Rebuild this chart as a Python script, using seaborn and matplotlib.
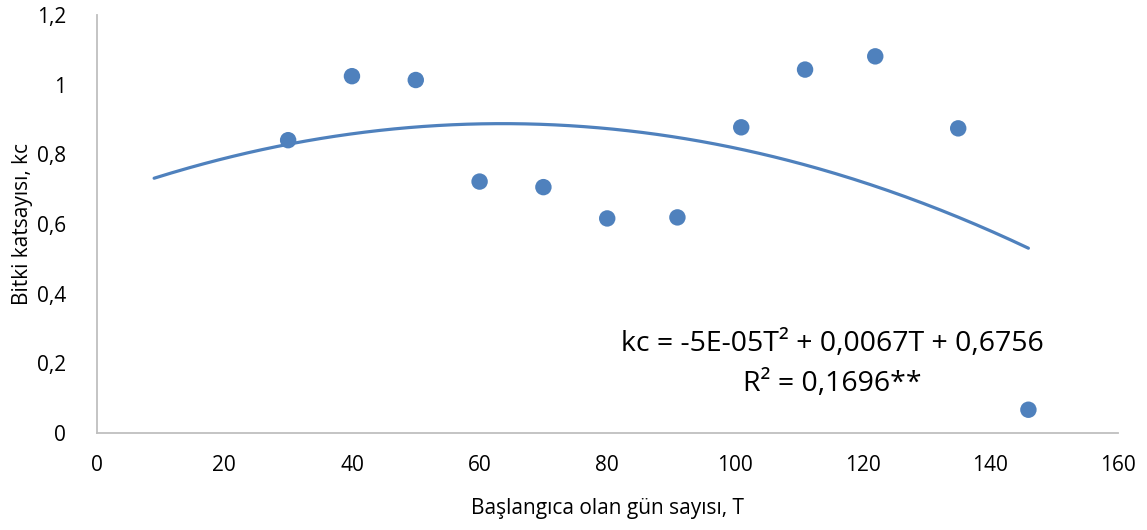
import numpy as np
import pandas as pd
import matplotlib
matplotlib.use("Agg")
import matplotlib.pyplot as plt
import seaborn as sns

# Days since start (T) and crop coefficient (kc)
days = [30, 40, 50, 60, 70, 80, 91, 101, 111, 122, 135, 146]
kc = [0.841, 1.025, 1.014, 0.722, 0.706, 0.616, 0.619, 0.878, 1.044, 1.082, 0.875, 0.066]

# Second-order polynomial trend: kc = a*T^2 + b*T + c
trend_coef = [-5.27e-05, 0.0067, 0.6756]
trend_start, trend_end = 9, 146

x_ticks = [0, 20, 40, 60, 80, 100, 120, 140, 160]
y_ticks = [0, 0.2, 0.4, 0.6, 0.8, 1.0, 1.2]
y_tick_labels = ["0", "0,2", "0,4", "0,6", "0,8", "1", "1,2"]

equation_text = "kc = -5E-05T² + 0,0067T + 0,6756\nR² = 0,1696**"
x_label = "Başlangıca olan gün sayısı, T"
y_label = "Bitki katsayısı, kc"

sns.set_theme(style="white")
plt.rcParams["font.family"] = ["Open Sans", "DejaVu Sans"]

blue = "#4F81BD"
axis_grey = "#BFBFBF"

fig = plt.figure(figsize=(11.47, 5.30), dpi=100)
ax = fig.add_axes([0.0843, 0.1836, 0.8902, 0.7875])

points = pd.DataFrame({"T": days, "kc": kc})
sns.scatterplot(data=points, x="T", y="kc", ax=ax, color=blue, s=140,
                edgecolor="none", zorder=3)

t_curve = np.linspace(trend_start, trend_end, 300)
curve = pd.DataFrame({"T": t_curve, "kc": np.polyval(trend_coef, t_curve)})
sns.lineplot(data=curve, x="T", y="kc", ax=ax, color=blue, linewidth=2.3,
             zorder=2)

ax.set_xlim(0, 160)
ax.set_ylim(0, 1.2)
ax.set_xticks(x_ticks)
ax.set_xticklabels([str(v) for v in x_ticks])
ax.set_yticks(y_ticks)
ax.set_yticklabels(y_tick_labels)
ax.tick_params(axis="both", length=0, labelsize=15, colors="#000000")
ax.tick_params(axis="x", pad=16)
ax.tick_params(axis="y", pad=22)

for side in ("top", "right"):
    ax.spines[side].set_visible(False)
for side in ("left", "bottom"):
    ax.spines[side].set_color(axis_grey)
    ax.spines[side].set_linewidth(1.3)

ax.set_xlabel(x_label, fontsize=15, labelpad=16, color="#000000")
ax.set_ylabel(y_label, fontsize=15, labelpad=3, color="#000000")

ax.text(115.3, 0.197, equation_text, ha="center", va="center",
        fontsize=20.5, linespacing=1.55, color="#000000")

fig.savefig("out.png", dpi=100, facecolor="white")
